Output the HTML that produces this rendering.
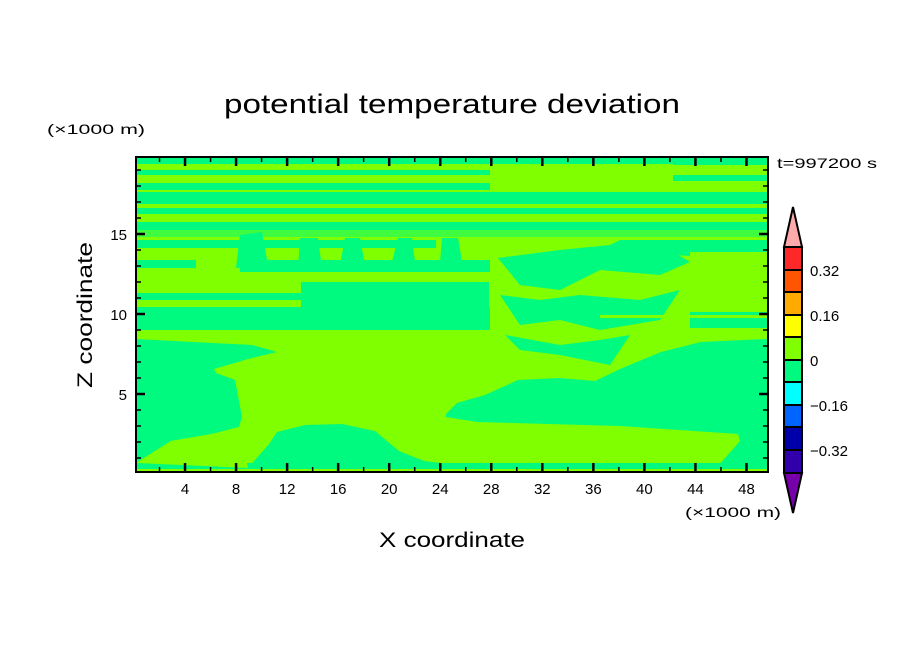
<!DOCTYPE html>
<html><head><meta charset="utf-8"><style>
html,body{margin:0;padding:0;background:#fff;}
svg{display:block;}
text{font-family:"Liberation Sans",sans-serif;fill:#000;}
</style></head><body>
<svg id="s" width="904" height="654" viewBox="0 0 904 654" xmlns="http://www.w3.org/2000/svg">
<rect width="904" height="654" fill="#fff"/>
<text x="452" y="113" font-size="27" text-anchor="middle" textLength="456" lengthAdjust="spacingAndGlyphs">potential temperature deviation</text>
<text x="47" y="134" font-size="14" textLength="98" lengthAdjust="spacingAndGlyphs">(×1000 m)</text>
<text x="777" y="168" font-size="14" textLength="100" lengthAdjust="spacingAndGlyphs">t=997200 s</text>
<g id="plot">
<rect x="136" y="157" width="632" height="315" fill="#80ff00"/>
<g fill="#00fa80">
<!-- top stripes -->
<rect x="136" y="157" width="354" height="7"/>
<rect x="673" y="157" width="95" height="8"/>
<rect x="490" y="157" width="183" height="7"/>
<rect x="136" y="170" width="354" height="5"/>
<rect x="136" y="183" width="354" height="7"/>
<rect x="673" y="175" width="95" height="6"/>
<rect x="136" y="192" width="632" height="12"/>
<rect x="136" y="208" width="632" height="6"/>
<rect x="136" y="222" width="632" height="8"/>
<rect x="136" y="228" width="632" height="9" opacity="0.5"/>
<rect x="136" y="240" width="300" height="8"/>
<rect x="136" y="260" width="60" height="8"/>
<rect x="240" y="260" width="250" height="12"/>
<rect x="136" y="293" width="165" height="7"/>
<rect x="301" y="282" width="188" height="48"/>
<rect x="136" y="307" width="354" height="23"/>
<!-- upper small structures -->
<polygon points="240,235 262,232 268,265 236,268"/>
<polygon points="300,238 318,238 322,268 298,268"/>
<polygon points="345,238 360,238 365,265 340,265"/>
<polygon points="398,238 412,238 415,262 392,262"/>
<polygon points="442,238 458,238 462,262 440,262"/>
<!-- right complex region -->
<polygon points="498,258 560,250 610,245 670,250 690,262 660,275 600,270 560,290 520,285"/>
<polygon points="500,295 540,300 580,295 640,300 680,290 660,320 600,330 560,320 520,325"/>
<polygon points="505,335 560,345 600,340 630,335 610,365 560,355 520,350"/>
<polygon points="600,250 690,256 690,240 620,240"/>
<rect x="690" y="312" width="78" height="16"/>
<rect x="690" y="240" width="78" height="12"/>
<!-- lower regions -->
<polygon points="136,339 252,345 277,352 248,359 214,369 216,373 235,380 237,390 242,417 239,427 212,434 171,441 136,463"/>
<polygon points="248,468 269,444 277,432 305,425 342,424 375,431 399,451 424,461 457,465 485,468"/>
<polygon points="446,414 457,403 485,395 518,380 559,378 595,381 620,369 661,352 701,342 767,339 767,466 718,466 740,441 738,434 620,426 477,422 446,417"/>
<rect x="136" y="463" width="632" height="6"/>
</g>
<g fill="#80ff00">
<rect x="600" y="315" width="168" height="3"/>
<rect x="700" y="331" width="68" height="3"/>
<rect x="136" y="469" width="632" height="3"/>
<polygon points="136,463 171,441 212,434 239,427 248,468"/>
</g>
<rect x="136" y="157" width="632" height="315" fill="none" stroke="#000" stroke-width="2"/>
<g id="ticks" stroke="#000"></g>
</g>
<g font-size="15">
<text x="127" y="240" text-anchor="end">15</text>
<text x="127" y="320" text-anchor="end">10</text>
<text x="127" y="400" text-anchor="end">5</text>
</g>
<g id="xl" font-size="15" text-anchor="middle"></g>
<text x="685" y="517" font-size="14" textLength="96" lengthAdjust="spacingAndGlyphs">(×1000 m)</text>
<text x="452" y="547" font-size="21" text-anchor="middle" textLength="146" lengthAdjust="spacingAndGlyphs">X coordinate</text>
<text transform="translate(92,315) rotate(-90)" font-size="21" text-anchor="middle" textLength="146" lengthAdjust="spacingAndGlyphs">Z coordinate</text>
<!-- colorbar -->
<g stroke="#000" stroke-width="2">
<polygon points="793,207 802,247 784,247" fill="#ffaaaa"/>
<rect x="784" y="247" width="18" height="23" fill="#ff2828"/>
<rect x="784" y="270" width="18" height="22" fill="#ff5500"/>
<rect x="784" y="292" width="18" height="23" fill="#ffaa00"/>
<rect x="784" y="315" width="18" height="22" fill="#ffff00"/>
<rect x="784" y="337" width="18" height="23" fill="#80ff00"/>
<rect x="784" y="360" width="18" height="22" fill="#00fa80"/>
<rect x="784" y="382" width="18" height="23" fill="#00ffff"/>
<rect x="784" y="405" width="18" height="22" fill="#0064ff"/>
<rect x="784" y="427" width="18" height="23" fill="#0000aa"/>
<rect x="784" y="450" width="18" height="23" fill="#3200aa"/>
<polygon points="784,473 802,473 793,513" fill="#7800aa"/>
</g>
<g font-size="15">
<text x="810" y="276">0.32</text>
<text x="810" y="321">0.16</text>
<text x="810" y="366">0</text>
<text x="810" y="411">−0.16</text>
<text x="810" y="456">−0.32</text>
</g>
</svg>
<script>
var t=document.getElementById('ticks'),xl=document.getElementById('xl'),NS="http://www.w3.org/2000/svg";
function ln(x1,y1,x2,y2,w){var l=document.createElementNS(NS,'line');l.setAttribute('x1',x1);l.setAttribute('y1',y1);l.setAttribute('x2',x2);l.setAttribute('y2',y2);l.setAttribute('stroke-width',w);t.appendChild(l);}
var x0=134,sx=12.76;
for(var k=2;k<=48;k+=2){var x=x0+k*sx,maj=(k%4==0);var L=maj?9:5,w=maj?2.5:1.5;ln(x,472,x,472-L,w);ln(x,157,x,157+L,w);
if(maj){var tx=document.createElementNS(NS,'text');tx.setAttribute('x',x);tx.setAttribute('y',494);tx.textContent=k;xl.appendChild(tx);}}
var y0=474,sy=16;
for(var k=1;k<=19;k++){var y=y0-k*sy,maj=(k%5==0);var L=maj?9:5,w=maj?2.5:1.5;ln(136,y,136+L,y,w);ln(768,y,768-L,y,w);}
</script>
</body></html>
